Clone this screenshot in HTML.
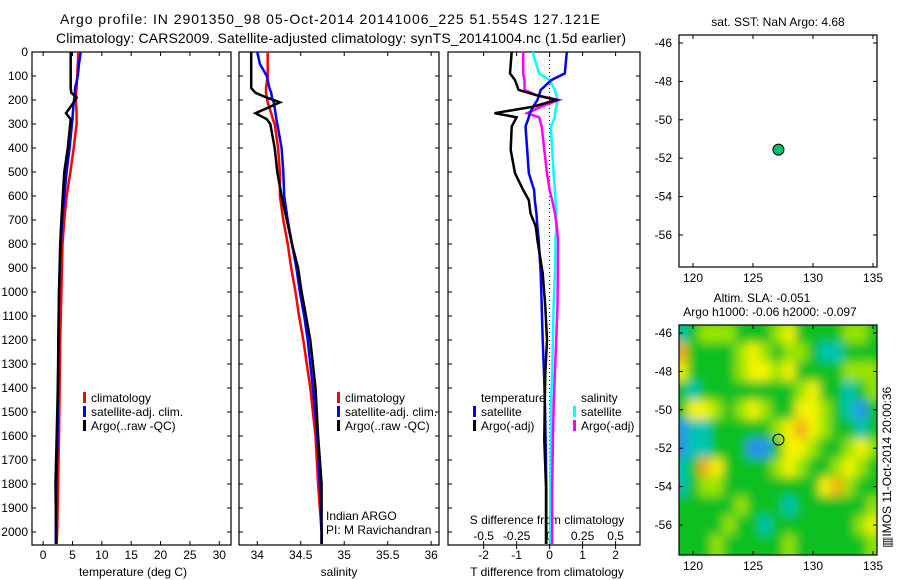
<!DOCTYPE html>
<html><head><meta charset="utf-8"><style>
body{margin:0;background:#fff;}
svg{display:block;font-family:"Liberation Sans",sans-serif;}
</style></head><body>
<svg id="fig" width="900" height="580" viewBox="0 0 900 580" xmlns="http://www.w3.org/2000/svg">
<defs>
<filter id="blur" filterUnits="userSpaceOnUse" x="660" y="300" width="240" height="280"><feGaussianBlur stdDeviation="5"/></filter>
<clipPath id="mapclip"><rect x="679" y="325" width="198" height="230"/></clipPath>
</defs>
<text x="60" y="24" font-size="14" textLength="540">Argo profile: IN 2901350_98 05-Oct-2014 20141006_225 51.554S 127.121E</text>
<text x="56" y="43" font-size="14" textLength="570">Climatology: CARS2009. Satellite-adjusted climatology: synTS_20141004.nc (1.5d earlier)</text>
<g id="g"></g>
</svg>
<script>
const depths = [0,50,100,150,170,190,210,255,280,300,400,500,600,700,800,900,1000,1100,1200,1400,1600,1800,2000,2050];
const tempClim = [6.0,5.9,5.8,5.7,5.6,5.6,5.6,5.7,5.7,5.7,5.2,4.65,4.0,3.6,3.3,3.2,3.1,3.0,2.9,2.8,2.7,2.55,2.4,2.3];
const tempSat  = [6.4,6.1,5.9,5.45,5.4,5.3,5.2,5.05,5.0,4.9,4.5,4.0,3.6,3.25,3.0,2.85,2.7,2.65,2.6,2.55,2.45,2.25,2.15,2.15];
const tempArgo = [4.7,4.7,4.7,4.7,4.8,5.7,5.2,3.9,4.7,4.6,4.2,3.6,3.35,3.1,2.9,2.8,2.7,2.65,2.6,2.5,2.3,2.1,2.2,2.2];
const salClim = [34.12,34.12,34.12,34.10,34.10,34.11,34.12,34.16,34.18,34.20,34.24,34.26,34.26,34.30,34.35,34.39,34.44,34.48,34.53,34.61,34.67,34.70,34.74,34.74];
const salSat  = [34.00,34.03,34.11,34.14,34.16,34.17,34.19,34.21,34.22,34.23,34.28,34.30,34.31,34.35,34.40,34.45,34.49,34.54,34.58,34.64,34.69,34.72,34.74,34.74];
const salArgo = [33.93,33.93,33.93,33.93,33.98,34.11,34.26,33.98,34.11,34.15,34.20,34.23,34.28,34.34,34.40,34.47,34.51,34.56,34.61,34.67,34.70,34.74,34.74,34.74];
const dDepths = [0,89,117,158,180,200,228,255,272,311,408,505,575,617,672,728,783,922,1061,1200,1339,1478,1617,1811,2050];
const dTsat  = [0.52,0.46,0.05,-0.27,-0.32,-0.37,-0.5,-0.6,-0.63,-0.73,-0.68,-0.63,-0.47,-0.45,-0.4,-0.37,-0.33,-0.27,-0.24,-0.21,-0.17,-0.14,-0.12,-0.1,-0.1];
const dTargo = [-1.15,-1.2,-1.05,-0.94,-0.4,0.2,-0.5,-1.67,-1.0,-1.15,-1.18,-1.05,-0.8,-0.63,-0.58,-0.42,-0.37,-0.21,-0.13,-0.08,-0.13,-0.15,-0.16,-0.11,-0.11];
const dSsat  = [-0.13,-0.08,0.0,0.04,0.05,0.06,0.05,0.04,0.04,0.01,0.02,0.03,0.04,0.045,0.05,0.05,0.045,0.04,0.03,0.025,0.02,0.01,0.01,0.006,0.006];
const dSargo = [-0.2,-0.2,-0.19,-0.19,-0.1,0.07,-0.066,-0.17,-0.08,-0.06,-0.04,-0.02,0.0,0.02,0.04,0.055,0.064,0.062,0.06,0.05,0.04,0.03,0.025,0.02,0.02];
const depthTicks = [0,100,200,300,400,500,600,700,800,900,1000,1100,1200,1300,1400,1500,1600,1700,1800,1900,2000];
const tempTicks = [0,5,10,15,20,25,30];
const salTicks = [34,34.5,35,35.5,36];
const tdTicks = [-2,-1,0,1,2];
const sdTicks = [-0.5,-0.25,0,0.25,0.5];
const latTicks = [-46,-48,-50,-52,-54,-56];
const lonTicks = [120,125,130,135];
const mapLats = [-46,-47,-48,-49,-50,-51,-52,-53,-54,-55,-56,-57,-58];
const mapLons = [119,120,121,122,123,124,125,126,127,128,129,130,131,132,133,134,135];
const slaLevels = [
[-1,0,1,1,1,0,0,0,1,2,0,0,0,0,1,1,0],
[3,0,0,0,0,1,2,1,0,1,1,0,-1,-1,0,0,0],
[2,0,0,0,0,1,2,2,1,2,0,0,0,0,1,1,1],
[0,-1,0,0,0,0,0,0,0,0,1,2,0,0,-1,0,1],
[0,2,2,1,0,1,2,1,0,0,2,2,1,0,-1,-2,0],
[-2,-1,-1,0,0,0,0,0,1,2,3,2,1,0,0,-1,0],
[-2,-1,-1,0,0,0,-2,-2,0,2,2,1,0,0,1,2,1],
[-1,0,3,2,0,0,0,0,1,2,1,0,0,1,2,1,0],
[-1,0,1,1,0,0,0,0,0,0,0,0,2,3,1,0,0],
[0,0,0,0,0,1,0,0,0,-1,0,0,0,0,0,0,1],
[0,0,0,0,1,0,0,-1,0,0,0,0,0,0,0,1,2],
[0,0,0,1,0,0,0,0,0,1,0,0,0,0,0,0,1],
[0,0,0,1,0,0,0,0,0,1,0,0,0,0,0,0,1]];
const argoLon = 127.121, argoLat = -51.554;

const NS="http://www.w3.org/2000/svg";
const G=document.getElementById('g');
function mk(tag,attrs,parent){const e=document.createElementNS(NS,tag);for(const k in attrs)e.setAttribute(k,attrs[k]);(parent||G).appendChild(e);return e;}
function txt(s,x,y,anchor,size,parent){const t=mk('text',{x:x,y:y,'text-anchor':anchor||'start','font-size':size||12},parent);t.textContent=s;return t;}

const PT=52, PB=545;
const yD = d => 52 + d*0.24;
const panels=[
 {name:'temperature',x0:32,x1:231,v0:-1.9,v1:32.0},
 {name:'salinity',x0:239,x1:439,v0:33.79,v1:36.09},
 {name:'difference',x0:448,x1:640,v0:-3.08,v1:2.74}
];
function scaler(p){return v=>p.x0+(v-p.v0)/(p.v1-p.v0)*(p.x1-p.x0);}
const xT=scaler(panels[0]), xS=scaler(panels[1]), xTd=scaler(panels[2]);
const xSd = s => xTd(s*4);

function line(xs,vals,ds,fx,color,name){
  const pts=vals.map((v,i)=>fx(v).toFixed(1)+','+yD(ds[i]).toFixed(1)).join(' ');
  const pl=mk('polyline',{points:pts,fill:'none',stroke:color,'stroke-width':2.5,'stroke-linejoin':'miter'});
  
  
}

panels.forEach((p,pi)=>{
  const r=mk('rect',{x:p.x0,y:PT,width:p.x1-p.x0,height:PB-PT,fill:'none',stroke:'#000','stroke-width':1.2});
  
  
  depthTicks.forEach(d=>{
    mk('line',{x1:p.x0,x2:p.x0+4,y1:yD(d),y2:yD(d),stroke:'#000'});
    mk('line',{x1:p.x1,x2:p.x1-4,y1:yD(d),y2:yD(d),stroke:'#000'});
  });
});
depthTicks.forEach(d=>{
  const t=txt(String(d),28,yD(d)+4,'end',12);
  
  
});
tempTicks.forEach(v=>{
  mk('line',{x1:xT(v),x2:xT(v),y1:PB,y2:PB-4,stroke:'#000'});
  mk('line',{x1:xT(v),x2:xT(v),y1:PT,y2:PT+4,stroke:'#000'});
  const t=txt(String(v),xT(v),559,'middle',12);
  
  
});
salTicks.forEach(v=>{
  mk('line',{x1:xS(v),x2:xS(v),y1:PB,y2:PB-4,stroke:'#000'});
  mk('line',{x1:xS(v),x2:xS(v),y1:PT,y2:PT+4,stroke:'#000'});
  const t=txt(String(v),xS(v),559,'middle',12);
  
  
});
tdTicks.forEach(v=>{
  mk('line',{x1:xTd(v),x2:xTd(v),y1:PB,y2:PB+4,stroke:'#000'});
  mk('line',{x1:xTd(v),x2:xTd(v),y1:PT,y2:PT+4,stroke:'#000'});
  const t=txt(String(v),xTd(v),559,'middle',12);
  
  
});
sdTicks.forEach(v=>{
  mk('line',{x1:xSd(v),x2:xSd(v),y1:PB,y2:PB-4,stroke:'#000'});
  const t=txt(String(v),xSd(v),540,'middle',12);
  
  
});
const z=mk('line',{x1:xTd(0),x2:xTd(0),y1:PT,y2:PB,stroke:'#000','stroke-dasharray':'1,3'});



let t;
t=txt('temperature (deg C)',133,576,'middle',12);
t=txt('salinity',339,576,'middle',12);
t=txt('T difference from climatology',547,576,'middle',12);
t=txt('S difference from climatology',547,524,'middle',12);

line(0,tempClim,depths,xT,'#ff0000','temperature-climatology-line');
line(0,tempSat,depths,xT,'#0000ff','temperature-satellite-line');
line(0,tempArgo,depths,xT,'#000000','temperature-argo-line');
line(0,salClim,depths,xS,'#ff0000','salinity-climatology-line');
line(0,salSat,depths,xS,'#0000ff','salinity-satellite-line');
line(0,salArgo,depths,xS,'#000000','salinity-argo-line');
line(0,dSsat,dDepths,xSd,'#00ffff','s-diff-satellite-line');
line(0,dSargo,dDepths,xSd,'#ff00ff','s-diff-argo-line');
line(0,dTsat,dDepths,xTd,'#0000ff','t-diff-satellite-line');
line(0,dTargo,dDepths,xTd,'#000000','t-diff-argo-line');

function legend(x,y,items,name){
  const g=mk('g',{});
  
  
  items.forEach((it,i)=>{
    if(it[1]) mk('rect',{x:x,y:y+i*14-10,width:3,height:11,fill:it[1]},g);
    txt(it[0],x+8,y+i*14,'start',12,g);
  });
}
legend(83,402,[['climatology','#ff0000'],['satellite-adj. clim.','#0000ff'],['Argo(..raw -QC)','#000000']],'temperature-legend');
legend(337,402,[['climatology','#ff0000'],['satellite-adj. clim.','#0000ff'],['Argo(..raw -QC)','#000000']],'salinity-legend');
legend(473,402,[['temperature',null],['satellite','#0000ff'],['Argo(-adj)','#000000']],'t-difference-legend');
legend(573,402,[['salinity',null],['satellite','#00ffff'],['Argo(-adj)','#ff00ff']],'s-difference-legend');
t=txt('Indian ARGO',326,520,'start',12);
t=txt('PI: M Ravichandran',326,534,'start',12);

const lonX = l => 693 + (l-120)*12;
const MX0=679, MX1=877;
function mapAxes(top,bottom,name,latY){
  const r=mk('rect',{x:MX0,y:top,width:MX1-MX0,height:bottom-top,fill:'none',stroke:'#000','stroke-width':1.2});
  
  
  latTicks.forEach(v=>{
    mk('line',{x1:MX0,x2:MX0+4,y1:latY(v),y2:latY(v),stroke:'#000'});
    mk('line',{x1:MX1,x2:MX1-4,y1:latY(v),y2:latY(v),stroke:'#000'});
    const l=txt(String(v),672,latY(v)+4,'end',12);
    
    
  });
  lonTicks.forEach(v=>{
    mk('line',{x1:lonX(v),x2:lonX(v),y1:top,y2:top+4,stroke:'#000'});
    mk('line',{x1:lonX(v),x2:lonX(v),y1:bottom,y2:bottom-4,stroke:'#000'});
    const l=txt(String(v),lonX(v),bottom+15,'middle',12);
    
    
  });
}
const latYTop = la => 43 + (-46-la)*19.2;
const latYBot = la => 333 + (-46-la)*19.2;

const colors={'-2':'#2a8ff0','-1':'#00c4b4','0':'#08c024','1':'#98e400','2':'#f4f400','3':'#f4a818'};
const hg=mk('g',{'clip-path':'url(#mapclip)'});


mk('rect',{x:MX0,y:325,width:MX1-MX0,height:230,fill:colors['0']},hg);
const hb=mk('g',{filter:'url(#blur)'},hg);
mk('rect',{x:660,y:300,width:240,height:280,fill:colors['0']},hb);
slaLevels.forEach((row,ri)=>row.forEach((v,ci)=>{
  const c=mk('rect',{x:lonX(mapLons[ci]-0.5),y:latYBot(mapLats[ri]+0.5),width:12.2,height:19.4,fill:colors[String(v)]},hb);
  
  
}));
mapAxes(35,267,'sst-map',latYTop);
mapAxes(325,555,'sla-map',latYBot);
let c=mk('circle',{cx:lonX(argoLon),cy:latYTop(argoLat),r:5.5,fill:'#00c070',stroke:'#000','stroke-width':1});


c=mk('circle',{cx:lonX(argoLon),cy:latYBot(argoLat),r:5.5,fill:'none',stroke:'#000','stroke-width':1});


t=txt('sat. SST: NaN Argo: 4.68',778,26,'middle',12);
t=txt('Altim. SLA: -0.051',762,302,'middle',12);
t=txt('Argo h1000: -0.06 h2000: -0.097',770,316,'middle',12);
t=mk('text',{x:0,y:0,'font-size':12,transform:'translate(891,548) rotate(-90)'});t.textContent='\u25A5IMOS 11-Oct-2014 20:00:36';

</script>
</body></html>
